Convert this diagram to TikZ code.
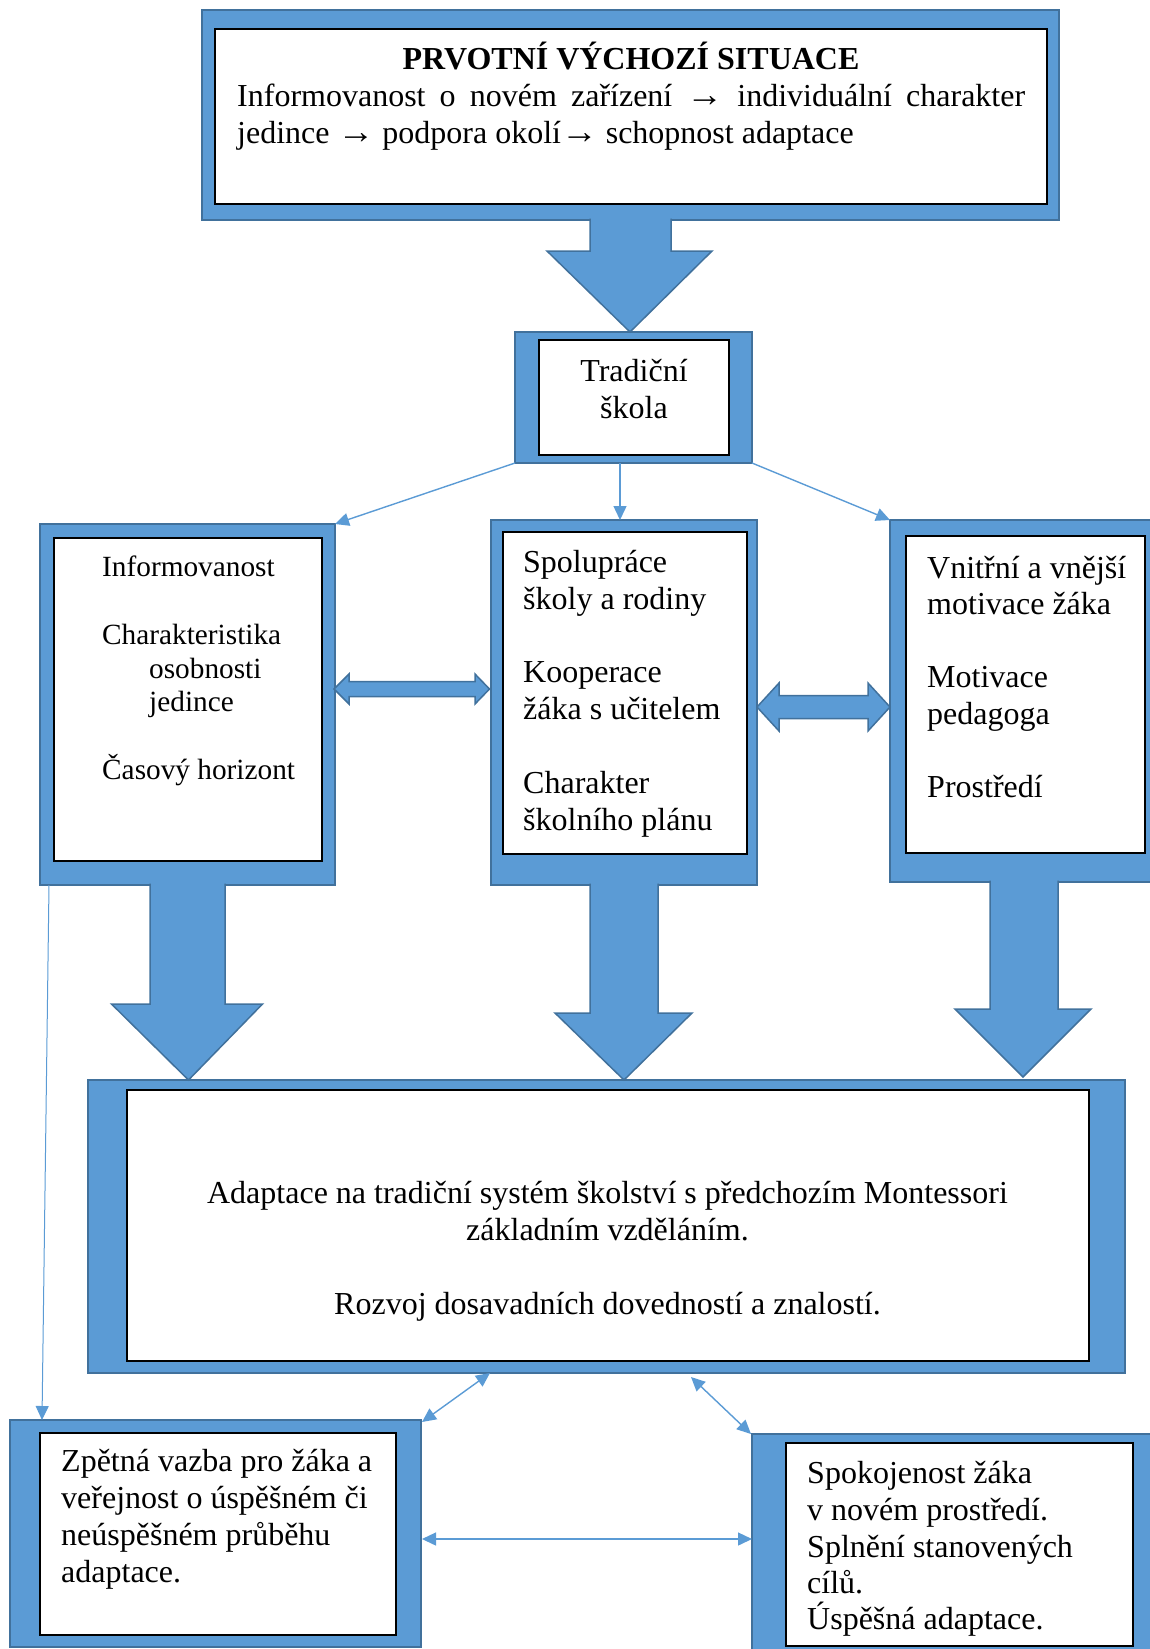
\documentclass[tikz,border=0pt]{standalone}
\usepackage{graphicx}
\usepackage{fontspec}
\setmainfont{Liberation Serif}
\usetikzlibrary{arrows.meta}
\definecolor{bfill}{RGB}{91,155,213}
\definecolor{bline}{RGB}{65,113,156}
\newcommand{\rarr}{\scalebox{1.15}[1.1]{→}}
\begin{document}
\begin{tikzpicture}[x=1pt,y=-1pt,
 outerbox/.style={draw=bline, line width=2pt, fill=bfill, rectangle, inner sep=0pt, outer sep=0pt, anchor=north west},
 innerbox/.style={draw=black, line width=2pt, fill=white, rectangle, inner sep=0pt, outer sep=0pt, anchor=north west},
 txt/.style={anchor=base west, inner sep=0pt, font=\fontsize{32}{37}\selectfont},
 txtc/.style={anchor=base, inner sep=0pt, font=\fontsize{32}{37}\selectfont},
 txtb/.style={anchor=base, inner sep=0pt, font=\bfseries\fontsize{32}{37}\selectfont},
 stxt/.style={anchor=base west, inner sep=0pt, font=\fontsize{29.3}{33.7}\selectfont},
 tip/.tip={Triangle[length=14pt,width=13pt]},
 conn/.style={draw=bfill, line width=1.4pt, -tip},
 dconn/.style={draw=bfill, line width=1.4pt, tip-tip},
 block/.style={fill=bfill},
 blockedge/.style={draw=bline, line width=1.5pt, line join=miter},
]
\useasboundingbox (0,0) rectangle (1150,1649);

% ---- boxes ----
\node[outerbox, minimum width=857pt, minimum height=210pt] (top) at (202,10) {};
\node[innerbox, minimum width=832pt, minimum height=175pt] (topin) at (215,29) {};

\node[outerbox, minimum width=237pt, minimum height=131pt] (trad) at (515,332) {};
\node[innerbox, minimum width=190pt, minimum height=115pt] (tradin) at (539,340) {};

\node[outerbox, minimum width=295pt, minimum height=361pt] (left) at (40,524) {};
\node[innerbox, minimum width=268pt, minimum height=323pt] (leftin) at (54,538) {};

\node[outerbox, minimum width=266pt, minimum height=365pt] (mid) at (491,520) {};
\node[innerbox, minimum width=244pt, minimum height=322pt] (midin) at (503,532) {};

\node[outerbox, minimum width=275pt, minimum height=362pt] (right) at (890,520) {};
\node[innerbox, minimum width=239pt, minimum height=317pt] (rightin) at (906,536) {};

\node[outerbox, minimum width=1037pt, minimum height=293pt] (big) at (88,1080) {};
\node[innerbox, minimum width=962pt, minimum height=271pt] (bigin) at (127,1090) {};

\node[outerbox, minimum width=411pt, minimum height=227pt] (bleft) at (10,1420) {};
\node[innerbox, minimum width=356pt, minimum height=202pt] (bleftin) at (40,1433) {};

\node[outerbox, minimum width=413pt, minimum height=231pt] (bright) at (752,1434) {};
\node[innerbox, minimum width=347pt, minimum height=203pt] (brightin) at (786,1443) {};

% ---- block arrows (down) ----
\fill[block] (590,218.5) -- (590,251) -- (547,251) -- (630,332) -- (712,251) -- (671,251) -- (671,218.5) -- cycle;
\draw[blockedge] (590,218.5) -- (590,251) -- (547,251) -- (630,332) -- (712,251) -- (671,251) -- (671,218.5);

\fill[block] (150,883.5) -- (150,1004) -- (111.5,1004) -- (188.5,1080) -- (262.5,1004) -- (225,1004) -- (225,883.5) -- cycle;
\draw[blockedge] (150,883.5) -- (150,1004) -- (111.5,1004) -- (188.5,1080) -- (262.5,1004) -- (225,1004) -- (225,883.5);

\fill[block] (590,883.5) -- (590,1013) -- (555,1013) -- (624,1080) -- (692,1013) -- (658,1013) -- (658,883.5) -- cycle;
\draw[blockedge] (590,883.5) -- (590,1013) -- (555,1013) -- (624,1080) -- (692,1013) -- (658,1013) -- (658,883.5);

\fill[block] (990,880.5) -- (990,1009) -- (955,1009) -- (1023,1077) -- (1091,1009) -- (1058,1009) -- (1058,880.5) -- cycle;
\draw[blockedge] (990,880.5) -- (990,1009) -- (955,1009) -- (1023,1077) -- (1091,1009) -- (1058,1009) -- (1058,880.5);

% ---- block arrows (double, horizontal) ----
\filldraw[block, blockedge] (334,689) -- (349,674) -- (349,681.5) -- (475,681.5) -- (475,674) -- (489.5,689) -- (475,704) -- (475,696.5) -- (349,696.5) -- (349,704) -- cycle;
\filldraw[block, blockedge] (757,707) -- (779,683) -- (779,695.5) -- (868,695.5) -- (868,683) -- (890,707) -- (868,731) -- (868,718.5) -- (779,718.5) -- (779,731) -- cycle;

% ---- thin connectors ----
\coordinate (tm) at (620,463);
\coordinate (mt) at (620,520);
\coordinate (lb) at (49,885);
\coordinate (blt) at (42,1420);
\coordinate (bga) at (490,1373);
\coordinate (bla) at (422,1422);
\coordinate (bgb) at (691,1377);
\coordinate (bra) at (751,1434);
\coordinate (blh) at (422,1539);
\coordinate (brh) at (752,1539);

\draw[conn] (trad.south west) -- (left.north east);
\draw[conn] (tm) -- (mt);
\draw[conn] (trad.south east) -- (right.north west);
\draw[conn, line width=1pt] (lb) -- (blt);
\draw[dconn] (bga) -- (bla);
\draw[dconn] (bgb) -- (bra);
\draw[dconn] (blh) -- (brh);

% ---- texts ----
\node[txtb] (t0) at (631,69) {PRVOTNÍ VÝCHOZÍ SITUACE};
\node[txt] (t1) at (237,106) {\makebox[788pt][s]{Informovanost o novém zařízení \rarr{} individuální charakter}};
\node[txt] (t2) at (237,143) {jedince \rarr{} podpora okolí\rarr{} schopnost adaptace};

\node[txtc] (tr1) at (634,381) {Tradiční};
\node[txtc] (tr2) at (634,418) {škola};

\node[stxt] (a1) at (102,576) {Informovanost};
\node[stxt] (a2) at (102,644) {Charakteristika};
\node[stxt] (a3) at (149,678) {osobnosti};
\node[stxt] (a4) at (149,711) {jedince};
\node[stxt] (a5) at (102,779) {Časový horizont};

\node[txt] (b1) at (523,572) {Spolupráce};
\node[txt] (b2) at (523,609) {školy a rodiny};
\node[txt] (b3) at (523,682) {Kooperace};
\node[txt] (b4) at (523,719) {žáka s učitelem};
\node[txt] (b5) at (523,793) {Charakter};
\node[txt] (b6) at (523,830) {školního plánu};

\node[txt] (c1) at (927,578) {Vnitřní a vnější};
\node[txt] (c2) at (927,614) {motivace žáka};
\node[txt] (c3) at (927,687) {Motivace};
\node[txt] (c4) at (927,724) {pedagoga};
\node[txt] (c5) at (927,797) {Prostředí};

\node[txtc] (d1) at (607.5,1203) {Adaptace na tradiční systém školství s předchozím Montessori};
\node[txtc] (d2) at (607.5,1240) {základním vzděláním.};
\node[txtc] (d3) at (607.5,1314) {Rozvoj dosavadních dovedností a znalostí.};

\node[txt] (e1) at (61,1471) {Zpětná vazba pro žáka a};
\node[txt] (e2) at (61,1508) {veřejnost o úspěšném či};
\node[txt] (e3) at (61,1545) {neúspěšném průběhu};
\node[txt] (e4) at (61,1582) {adaptace.};

\node[txt] (f1) at (807,1483) {Spokojenost žáka};
\node[txt] (f2) at (807,1520) {v novém prostředí.};
\node[txt] (f3) at (807,1557) {Splnění stanovených};
\node[txt] (f4) at (807,1593) {cílů.};
\node[txt] (f5) at (807,1629) {Úspěšná adaptace.};
\end{tikzpicture}
\end{document}
